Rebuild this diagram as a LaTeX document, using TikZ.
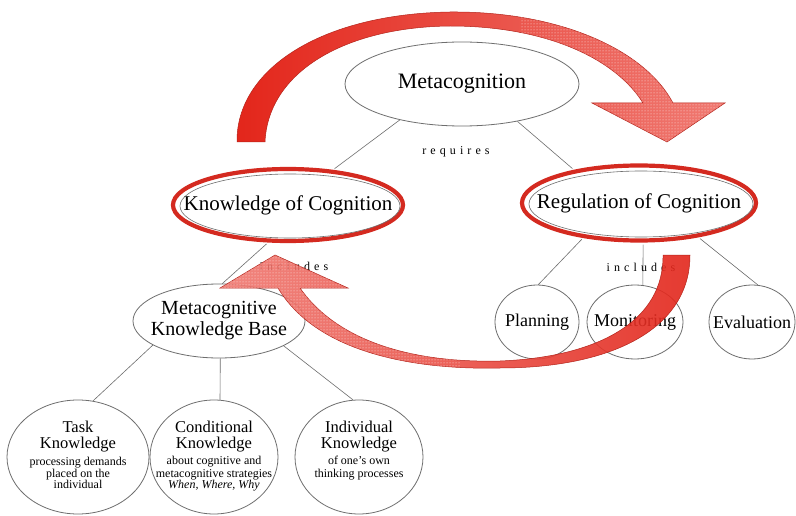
\documentclass[tikz,border=0pt]{standalone}
\usepackage{fontspec}
\setmainfont{Liberation Serif}
\usetikzlibrary{shapes.geometric,patterns}
\definecolor{redA}{HTML}{E3261B}
\definecolor{redE}{HTML}{D42A20}
\definecolor{pinkA}{HTML}{F07A72}
\definecolor{lineG}{HTML}{6E6E6E}
\newcommand\Ln[3]{\baselineskip=#1\relax\hbox to 0pt{\hss\fontsize{#2}{#1}\selectfont #3\hss}}
\def\arrowApath{(237,142) .. controls (236,70) and (320,14) .. (450,12)
  .. controls (560,11) and (645,50) .. (673,103)
  -- (725,103) -- (667,142) -- (592,103) -- (643,103)
  .. controls (615,58) and (545,26) .. (450,26)
  .. controls (345,27) and (268,72) .. (265,142) -- cycle}
\def\arrowBpath{(663,255) .. controls (664,320) and (600,357) .. (500,361)
  .. controls (420,363) and (340,345) .. (300,288)
  -- (348,288) -- (275,255) -- (220,288) -- (278,288)
  .. controls (318,355) and (420,370) .. (500,368)
  .. controls (610,368) and (690,330) .. (690,255) -- cycle}
\begin{document}
\begin{tikzpicture}[x=1pt,y=-1pt,
  ell/.style={ellipse, draw=lineG, line width=0.8pt, inner sep=0pt},
  redell/.style={ellipse, draw=redE, line width=4.2pt, inner sep=0pt},
  inring/.style={draw=lineG, line width=0.6pt},
  conn/.style={draw=lineG, line width=0.6pt},
  linklbl/.style={anchor=base, inner sep=0pt, font=\fontsize{12}{13}\selectfont\addfontfeature{LetterSpace=34}},
  txtlines/.style={anchor=base, inner sep=0pt},
  bigfont/.style={font=\fontsize{21}{24}\selectfont},
  midfont/.style={font=\fontsize{18}{20}\selectfont}
]
\fill[white] (0,0) rectangle (796,516);

% main nodes
\node[ell, minimum width=234pt, minimum height=84pt, font=\fontsize{22}{24}\selectfont] (meta) at (462,84) {\makebox[0pt]{Metacognition}};
\node[redell, minimum width=230pt, minimum height=72pt, bigfont] (know) at (288,205) {\makebox[0pt]{Knowledge of Cognition}};
\draw[inring] (290,206) ellipse [x radius=110pt, y radius=32pt];
\node[redell, minimum width=234pt, minimum height=75pt, bigfont] (reg) at (639,203) {\makebox[0pt]{Regulation of Cognition}};
\draw[inring] (641,204) ellipse [x radius=112pt, y radius=33pt];

\node[ell, minimum width=172pt, minimum height=74pt, font=\fontsize{20}{21}\selectfont] (mkb) at (219,321)
  {\makebox[0pt]{\begin{tabular}{@{}c@{}}Metacognitive\\Knowledge Base\end{tabular}}};

\node[ell, minimum width=84pt, minimum height=74pt, midfont] (plan) at (537,322) {\makebox[0pt]{Planning}};
\node[ell, minimum width=96pt, minimum height=74pt, midfont] (mon) at (635,322) {\makebox[0pt]{Monitoring}};
\node[ell, minimum width=86pt, minimum height=74pt, midfont] (eval) at (752,322) {\makebox[0pt]{Evaluation}};

\node[ell, minimum width=142pt, minimum height=114pt] (task) at (78,457) {};
\node[ell, minimum width=128pt, minimum height=114pt] (cond) at (214,457) {};
\node[ell, minimum width=128pt, minimum height=114pt] (ind) at (359,457) {};

\node[txtlines] (task-t) at (78,432) {\vtop{\lineskiplimit=-100pt
  \Ln{0pt}{16.5}{Task}\Ln{16.5pt}{16.5}{Knowledge}\Ln{16.5pt}{12}{processing demands}%
  \Ln{12pt}{12}{placed on the}\Ln{11.5pt}{12}{individual}}};
\node[txtlines] (cond-t) at (214,432) {\vtop{\lineskiplimit=-100pt
  \Ln{0pt}{16.5}{Conditional}\Ln{16.5pt}{16.5}{Knowledge}\Ln{16pt}{12}{about cognitive and}%
  \Ln{12.5pt}{12}{metacognitive strategies}\Ln{11.5pt}{12}{\itshape When, Where, Why}}};
\node[txtlines] (ind-t) at (359,432) {\vtop{\lineskiplimit=-100pt
  \Ln{0pt}{16.5}{Individual}\Ln{16.5pt}{16.5}{Knowledge}\Ln{16pt}{12}{of one's own}%
  \Ln{12.5pt}{12}{thinking processes}}};

% connectors
\draw[conn, shorten >=2pt] (meta.210) -- (know.38);
\draw[conn, shorten >=2pt] (meta.326) -- (reg.153);
\draw[conn, shorten <=2pt] (know.242) -- (mkb.85);
\draw[conn, shorten <=2pt] (reg.212) -- (plan.88);
\draw[conn, shorten <=2pt] (reg.276) -- (mon.78);
\draw[conn, shorten <=2pt] (reg.330) -- (eval.81);
\draw[conn] (mkb.200) -- (task.75);
\draw[conn] (mkb.272) -- (cond.84);
\draw[conn] (mkb.339) -- (ind.96);

% link labels
\node[linklbl] (req) at (456,155) {requires};
\node[linklbl] (inc1) at (294,270) {includes};
\node[linklbl] (inc2) at (641,271) {includes};

% big red arrows
\shadedraw[left color=redA, right color=pinkA, draw=redE!85!black, line width=0.5pt] \arrowApath;
\begin{scope}
  \clip \arrowApath;
  \fill[pattern=dots, pattern color=white!85!pinkA] (520,0) rectangle (740,150);
\end{scope}
\shadedraw[left color=pinkA, right color=redA, draw=redE!85!black, line width=0.5pt, fill opacity=0.9] \arrowBpath;
\begin{scope}
  \clip \arrowBpath;
  \fill[pattern=dots, pattern color=white!85!pinkA] (210,240) rectangle (460,380);
\end{scope}
\end{tikzpicture}
\end{document}
